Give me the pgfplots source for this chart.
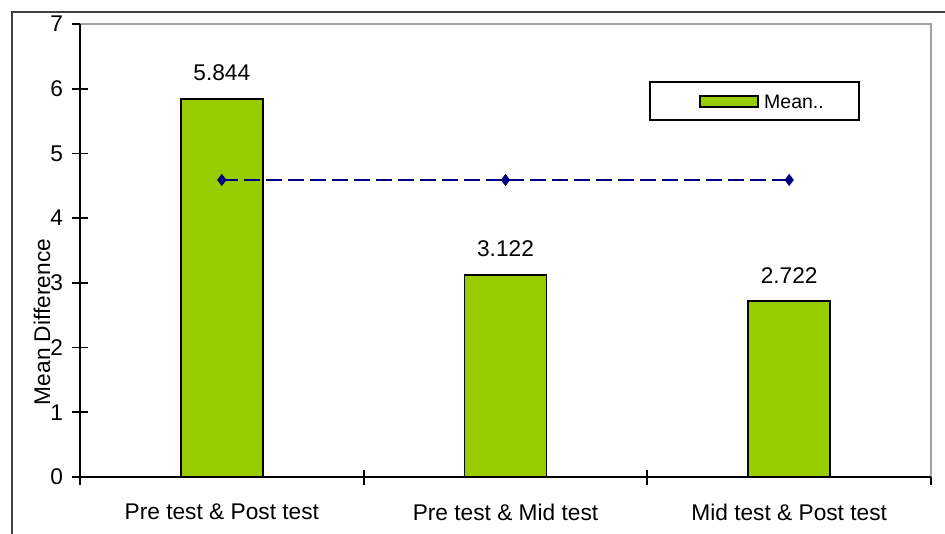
\documentclass[border=0pt]{standalone}
\usepackage{pgfplots}
\pgfplotsset{compat=1.18}
\usepackage{fontspec}
\setmainfont{Liberation Sans}
\definecolor{bargreen}{HTML}{99CC00}
\definecolor{navyline}{HTML}{000080}
\definecolor{framegray}{HTML}{404040}
\definecolor{boxgray}{HTML}{A0A0A0}
\begin{document}
\begin{tikzpicture}[x=1pt,y=1pt]
\useasboundingbox (0,0) rectangle (945,533);
\fill[white] (0,0) rectangle (945,533);
\draw[framegray, line width=2pt] (12,-5) -- (12,521) -- (950,521);
\begin{axis}[
  at={(80pt,56pt)}, anchor=south west,
  scale only axis, width=851pt, height=453pt,
  xmin=-0.5, xmax=2.5, ymin=0, ymax=7,
  axis line style={draw=none},
  ytick={0,1,2,3,4,5,6,7},
  xtick={0,1,2},
  xticklabels={Pre test \& Post test, Pre test \& Mid test, Mid test \& Post test},
  minor xtick={-0.5,0.5,1.5,2.5},
  xtick pos=bottom, ytick pos=left,
  major x tick style={draw=none},
  tick align=center,
  major tick length=15pt, minor tick length=15pt,
  tick style={black, line width=1.8pt},
  minor x tick style={black, line width=1.8pt},
  /pgf/number format/assume math mode=true,
  tick label style={font=\fontsize{22.7}{27}\selectfont, text=black},
  yticklabel style={xshift=-6pt},
  xticklabel style={yshift=-16pt},
  ylabel={Mean Difference},
  every axis y label/.style={at={(axis description cs:-0.0447,0.342)}, rotate=90, anchor=center, font=\fontsize{22.7}{27}\selectfont},
  clip=false,
]
\addplot[ybar, bar width=82pt, fill=bargreen, draw=black, line width=1.5pt,
  nodes near coords={\pgfmathprintnumber[fixed,precision=3,fixed zerofill,assume math mode=true]{\pgfplotspointmeta}},
  every node near coord/.append style={font=\fontsize{22.7}{27}\selectfont, text=black, inner sep=0pt, yshift=17pt}]
  coordinates {(0,5.844) (1,3.122) (2,2.722)};
\addplot[navyline, dash pattern=on 16pt off 6pt, line width=2pt, mark=diamond*, mark size=4.5pt, mark options={solid}]
  coordinates {(0,4.59) (1,4.59) (2,4.59)};
\draw[boxgray, line width=2pt] (rel axis cs:0,1) -- (rel axis cs:1,1) -- (rel axis cs:1,0);
\draw[black, line width=1.8pt] (rel axis cs:0,1) -- (rel axis cs:0,0) -- (rel axis cs:1,0);
\end{axis}
\draw[black, line width=1.5pt] (650,451) rectangle (859,413);
\draw[fill=bargreen, draw=black, line width=1.2pt] (700,437) rectangle (758,426);
\node[anchor=west, font=\fontsize{19.5}{23}\selectfont, inner sep=0pt] at (764,431.5) {Mean..};
\end{tikzpicture}
\end{document}
